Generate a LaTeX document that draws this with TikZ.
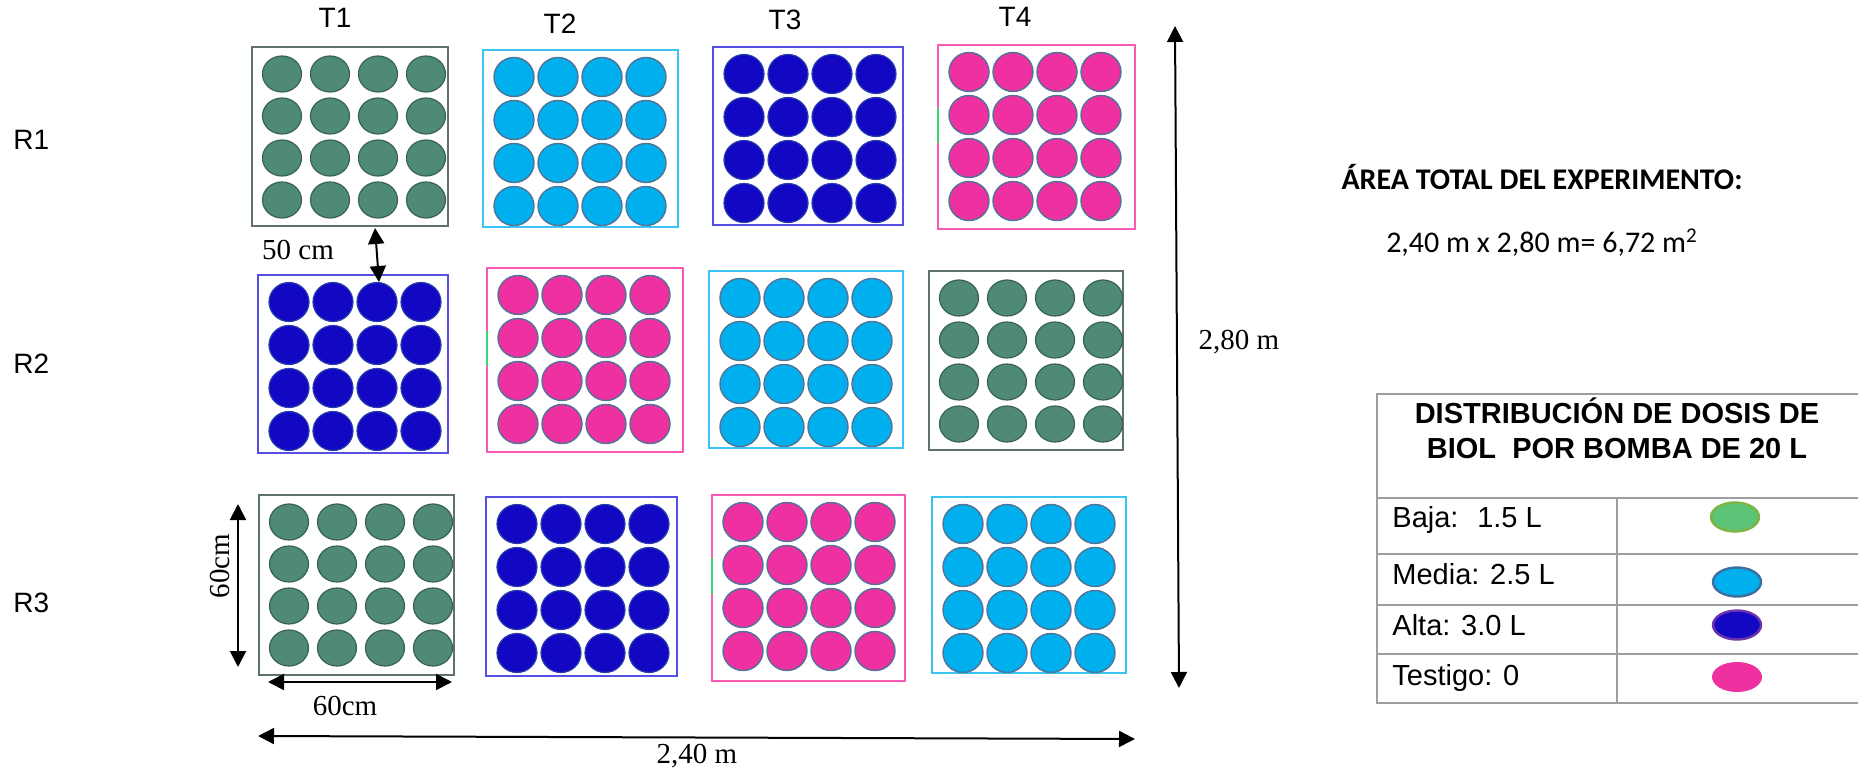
\documentclass[tikz,border=0pt]{standalone}
\usepackage{fontspec}
\setmainfont{Liberation Serif}
\newfontfamily\arialf{Liberation Sans}
\newfontfamily\calibrif{Carlito}
\usetikzlibrary{arrows.meta,calc}

\definecolor{gfill}{RGB}{78,138,118}
\definecolor{gline}{RGB}{58,98,84}
\definecolor{gbox}{RGB}{95,115,105}
\definecolor{cfill}{RGB}{0,176,238}
\definecolor{cbox}{RGB}{60,195,245}
\definecolor{bfill}{RGB}{18,8,196}
\definecolor{bline}{RGB}{40,60,170}
\definecolor{bbox}{RGB}{85,80,225}
\definecolor{pfill}{RGB}{238,48,160}
\definecolor{pbox}{RGB}{250,90,180}
\definecolor{dotline}{RGB}{80,115,150}
\definecolor{tblline}{RGB}{158,158,158}
\definecolor{markg}{RGB}{60,215,110}
\definecolor{lgfill}{RGB}{92,196,118}
\definecolor{lgline}{RGB}{125,180,70}
\definecolor{lcline}{RGB}{60,110,160}
\definecolor{lbline}{RGB}{110,50,170}

\tikzset{
  plotframe/.style={anchor=north west, inner sep=0pt, outer sep=0pt},
  boxg/.style={plotframe, draw=gbox, line width=1pt},
  boxc/.style={plotframe, draw=cbox, line width=1pt},
  boxb/.style={plotframe, draw=bbox, line width=1.3pt},
  boxp/.style={plotframe, draw=pbox, line width=1pt},
  dotg/.style={fill=gfill, draw=gline, line width=0.6pt},
  dotc/.style={fill=cfill, draw=dotline, line width=0.7pt},
  dotb/.style={fill=bfill, draw=bline, line width=0.6pt},
  dotp/.style={fill=pfill, draw=dotline, line width=0.7pt},
  pmark/.style={draw=markg, line width=1pt},
  dimarrow/.style={line width=1pt, {Triangle[length=8pt,width=8pt]}-{Triangle[length=8pt,width=8pt]}},
  arlbl/.style={font=\arialf\fontsize{14}{16}\selectfont, inner sep=0pt},
  tmlbl/.style={font=\fontsize{14.5}{16}\selectfont, inner sep=0pt},
  tblrule/.style={draw=tblline, line width=1pt},
  tbltxt/.style={font=\arialf\fontsize{14.5}{17}\selectfont, inner sep=0pt, anchor=base west},
  tblhead/.style={font=\arialf\bfseries\fontsize{14.5}{17}\selectfont, inner sep=0pt, anchor=base},
}

\newcommand\plotcell[6]{%
  \pgfmathsetmacro\plw{(#4-#2)*0.5}%
  \pgfmathsetmacro\plh{(#5-#3)*0.5}%
  \node[box#6, minimum width=\plw pt, minimum height=\plh pt] (#1) at (#2,#3) {};%
  \if g#6\def\pox{30}\def\pdx{48}\def\poy{27}\def\pdy{42}\def\prx{19.5}\def\pry{18}%
  \else\def\pox{31}\def\pdx{44}\def\poy{27}\def\pdy{43}\def\prx{20}\def\pry{19.5}\fi
  \foreach \i in {0,...,3}{\foreach \j in {0,...,3}{%
    \path[dot#6] ({#2+\pox+\i*\pdx},{#3+\poy+\j*\pdy}) ellipse [x radius=\prx, y radius=\pry];}}%
  \if p#6\draw[pmark] ($(#1.north west)!0.34!(#1.south west)$) -- ($(#1.north west)!0.53!(#1.south west)$);\fi
}

\begin{document}
\begin{tikzpicture}[x=0.5pt,y=-0.5pt]
\useasboundingbox (0,0) rectangle (1858,770);

% column and row labels
\node[arlbl, anchor=base] (t1) at (335,28) {T1};
\node[arlbl, anchor=base] (t2) at (560,34) {T2};
\node[arlbl, anchor=base] (t3) at (785,30) {T3};
\node[arlbl, anchor=base] (t4) at (1015,27) {T4};
\node[arlbl, anchor=base west] (r1) at (13,150) {R1};
\node[arlbl, anchor=base west] (r2) at (13,373) {R2};
\node[arlbl, anchor=base west] (r3) at (13,612) {R3};

% plots
\plotcell{p11}{252}{47}{448}{226}{g}
\plotcell{p12}{483}{50}{678}{227}{c}
\plotcell{p13}{713}{47}{903}{225}{b}
\plotcell{p14}{938}{45}{1135}{229}{p}
\plotcell{p21}{258}{275}{448}{453}{b}
\plotcell{p22}{487}{268}{683}{452}{p}
\plotcell{p23}{709}{271}{903}{448}{c}
\plotcell{p24}{929}{271}{1123}{450}{g}
\plotcell{p31}{259}{495}{454}{675}{g}
\plotcell{p32}{486}{497}{677}{676}{b}
\plotcell{p33}{712}{495}{905}{681}{p}
\plotcell{p34}{932}{497}{1126}{673}{c}

% dimension arrows
\coordinate (d50a) at (375,228);
\coordinate (d50b) at (379,282);
\draw[dimarrow] (d50a) -- (d50b);
\node[tmlbl, anchor=base] (l50) at (298,260) {50 cm};

\coordinate (h60a) at (268,682);
\coordinate (h60b) at (452,682);
\draw[dimarrow] (h60a) -- (h60b);
\node[tmlbl, anchor=base] (l60h) at (345,715) {60cm};

\coordinate (v60a) at (238,504);
\coordinate (v60b) at (238,667);
\draw[dimarrow] (v60a) -- (v60b);
\node[tmlbl, rotate=90, anchor=base] (l60v) at (229,566) {60cm};

\coordinate (w1) at (258,736);
\coordinate (w2) at (1135,739);
\draw[dimarrow] (w1) -- (w2);
\node[tmlbl, anchor=base] (l240) at (697,763) {2,40 m};

\coordinate (ht1) at (1175,26);
\coordinate (ht2) at (1179,688);
\draw[dimarrow] (ht1) -- (ht2);
\node[tmlbl, anchor=base] (l280) at (1239,350) {2,80 m};

% total area
\node[font=\calibrif\bfseries\fontsize{15}{18}\selectfont, inner sep=0pt, anchor=base] (area) at (1542,190) {ÁREA TOTAL DEL EXPERIMENTO:};
\node[font=\calibrif\fontsize{15}{18}\selectfont, inner sep=0pt, anchor=base] (areav) at (1542,253) {2,40 m x 2,80 m= 6,72 m\textsuperscript{2}};

% legend table
\draw[tblrule] (1858,394) -- (1377,394) -- (1377,703) -- (1858,703);
\draw[tblrule] (1377,498) -- (1858,498);
\draw[tblrule] (1377,554) -- (1858,554);
\draw[tblrule] (1377,605) -- (1858,605);
\draw[tblrule] (1377,654) -- (1858,654);
\draw[tblrule] (1617,498) -- (1617,703);

\node[tblhead] (hd1) at (1617,423) {DISTRIBUCIÓN DE DOSIS DE};
\node[tblhead] (hd2) at (1617,458) {BIOL~ POR BOMBA DE 20 L};

\node[tbltxt] (baja) at (1392,527) {Baja:~ 1.5 L};
\node[tbltxt] (media) at (1392,584) {Media: 2.5 L};
\node[tbltxt] (alta) at (1392,635) {Alta: 3.0 L};
\node[tbltxt] (testigo) at (1392,685) {Testigo: 0};

\path[fill=lgfill, draw=lgline, line width=1.2pt] (1735,517) ellipse [x radius=24, y radius=14.5];
\path[fill=cfill, draw=lcline, line width=1.2pt] (1737,582) ellipse [x radius=24, y radius=14.5];
\path[fill=bfill, draw=lbline, line width=1.2pt] (1737,625) ellipse [x radius=24, y radius=14.5];
\path[fill=pfill] (1737,677) ellipse [x radius=25, y radius=15];
\end{tikzpicture}
\end{document}
